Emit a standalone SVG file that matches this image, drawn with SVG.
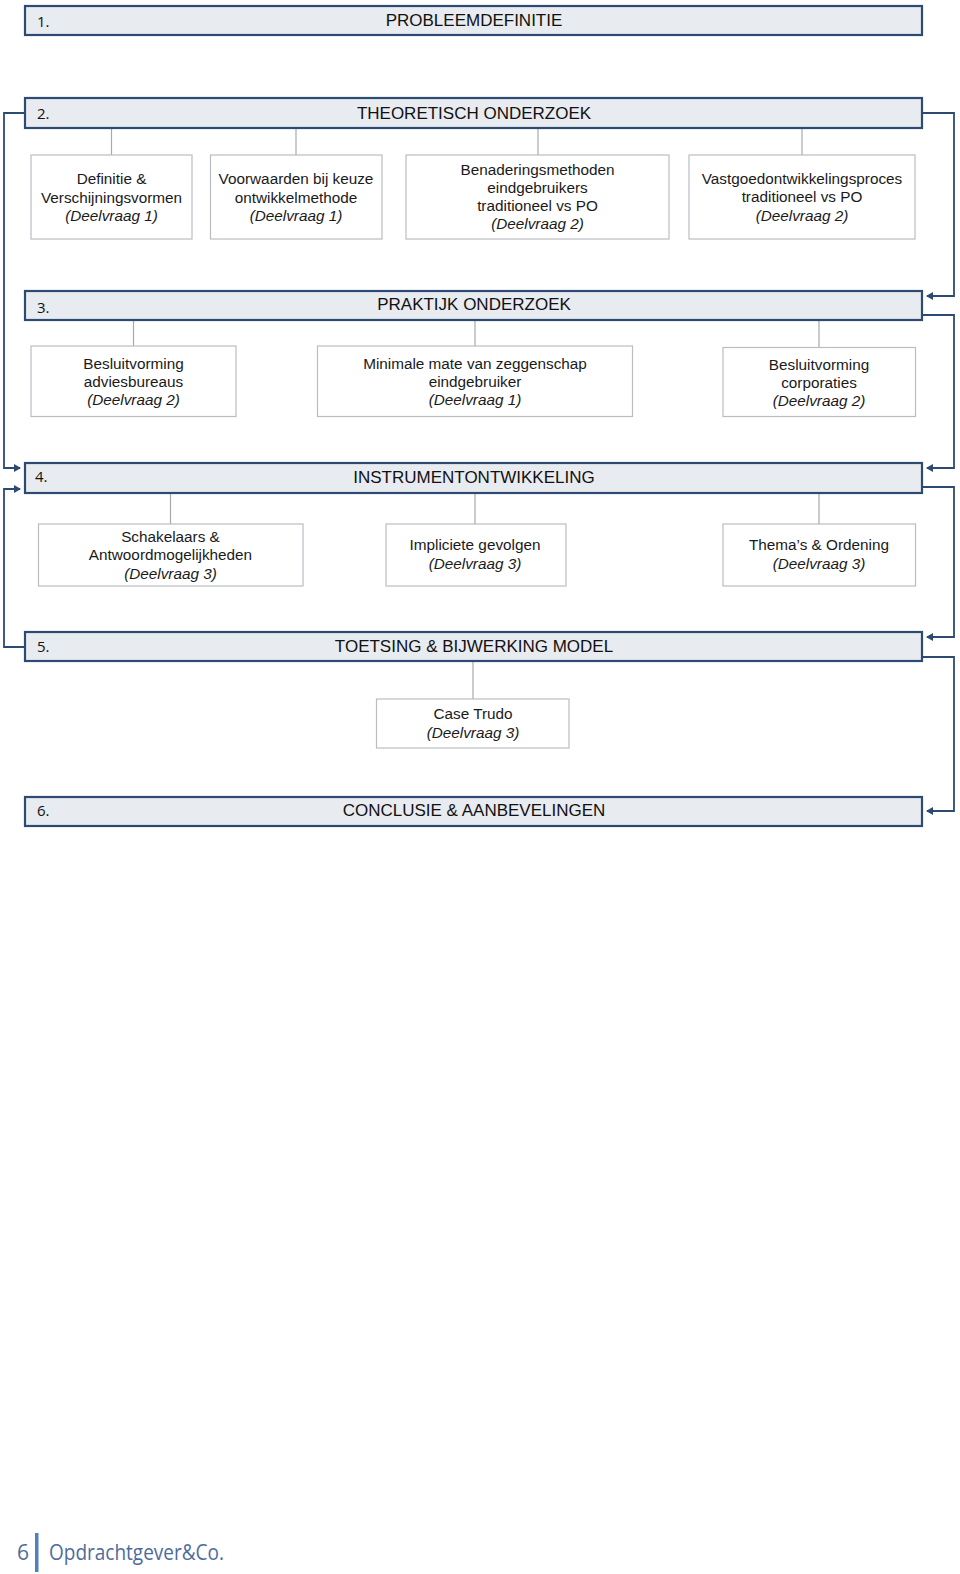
<svg xmlns="http://www.w3.org/2000/svg" width="960" height="1574" viewBox="0 0 960 1574">
<style>
.bar{fill:#e8ebf0;stroke:#2d4a72;stroke-width:2.2}
.box{fill:#ffffff;stroke:#b9bdc2;stroke-width:1.2}
.num{font-family:"Open Sans","Noto Sans",sans-serif;font-size:15px;fill:#111}
.title{font-family:"Liberation Sans",Arial,sans-serif;font-size:17px;fill:#111;text-anchor:middle}
.t{font-family:"Liberation Sans",Arial,sans-serif;font-size:15.3px;fill:#1a1a1a;text-anchor:middle}
.i{font-style:italic}
.gl{stroke:#a7a9ac;stroke-width:1.2;fill:none}
.bl{stroke:#2d4a72;stroke-width:1.8;fill:none;marker-end:url(#ah)}
</style>
<defs>
<marker id="ah" markerWidth="8" markerHeight="8" refX="6" refY="4" orient="auto" markerUnits="userSpaceOnUse">
<path d="M0,0 L7,4 L0,8 Z" fill="#2d4a72"/>
</marker>
</defs>
<rect width="960" height="1574" fill="#ffffff"/>

<g id="connectors">
<path class="gl" d="M111.5,128 V155"/>
<path class="gl" d="M296,128 V155"/>
<path class="gl" d="M538,128 V155"/>
<path class="gl" d="M802,128 V155"/>
<path class="gl" d="M133.5,320 V346"/>
<path class="gl" d="M475,320 V346"/>
<path class="gl" d="M819,320 V347"/>
<path class="gl" d="M170.5,493 V524"/>
<path class="gl" d="M475,493 V524"/>
<path class="gl" d="M819,493 V524"/>
<path class="gl" d="M473,661 V699"/>
<path class="bl" d="M922,113 H954 V296 H927"/>
<path class="bl" d="M922,315 H954 V468 H927"/>
<path class="bl" d="M922,487 H954 V637 H927"/>
<path class="bl" d="M922,657 H954 V811 H927"/>
<path class="bl" d="M25,113 H4 V468 H20"/>
<path class="bl" d="M25,647 H4 V489 H20"/>
</g>

<g id="bar1"><rect class="bar" x="25" y="6" width="897" height="29"/><text class="num" x="37" y="27">1.</text><text class="title" x="474" y="26">PROBLEEMDEFINITIE</text></g>
<g id="bar2"><rect class="bar" x="25" y="98" width="897" height="30"/><text class="num" x="37" y="119">2.</text><text class="title" x="474" y="119">THEORETISCH ONDERZOEK</text></g>
<g id="bar3"><rect class="bar" x="25" y="291" width="897" height="29"/><text class="num" x="37" y="313">3.</text><text class="title" x="474" y="310">PRAKTIJK ONDERZOEK</text></g>
<g id="bar4"><rect class="bar" x="25" y="463" width="897" height="30"/><text class="num" x="35" y="482">4.</text><text class="title" x="474" y="483">INSTRUMENTONTWIKKELING</text></g>
<g id="bar5"><rect class="bar" x="25" y="632" width="897" height="29"/><text class="num" x="37" y="652">5.</text><text class="title" x="474" y="652">TOETSING &amp; BIJWERKING MODEL</text></g>
<g id="bar6"><rect class="bar" x="25" y="797" width="897" height="29"/><text class="num" x="37" y="816">6.</text><text class="title" x="474" y="816">CONCLUSIE &amp; AANBEVELINGEN</text></g>

<g id="boxA"><rect class="box" x="31" y="155" width="161" height="84"/>
<text class="t" x="111.5" y="184">Definitie &amp;</text><text class="t" x="111.5" y="202.5">Verschijningsvormen</text><text class="t i" x="111.5" y="221">(Deelvraag 1)</text></g>
<g id="boxB"><rect class="box" x="210.5" y="155" width="171.5" height="84"/>
<text class="t" x="296" y="184">Voorwaarden bij keuze</text><text class="t" x="296" y="202.5">ontwikkelmethode</text><text class="t i" x="296" y="221">(Deelvraag 1)</text></g>
<g id="boxC"><rect class="box" x="406" y="155" width="263" height="84"/>
<text class="t" x="537.5" y="175">Benaderingsmethoden</text><text class="t" x="537.5" y="193">eindgebruikers</text><text class="t" x="537.5" y="211">traditioneel vs PO</text><text class="t i" x="537.5" y="229">(Deelvraag 2)</text></g>
<g id="boxD"><rect class="box" x="689" y="155" width="226" height="84"/>
<text class="t" x="802" y="183.5">Vastgoedontwikkelingsproces</text><text class="t" x="802" y="202">traditioneel vs PO</text><text class="t i" x="802" y="220.5">(Deelvraag 2)</text></g>

<g id="boxE"><rect class="box" x="31" y="346" width="205" height="70.5"/>
<text class="t" x="133.5" y="368.5">Besluitvorming</text><text class="t" x="133.5" y="386.5">adviesbureaus</text><text class="t i" x="133.5" y="405">(Deelvraag 2)</text></g>
<g id="boxF"><rect class="box" x="317.5" y="346" width="315" height="70.5"/>
<text class="t" x="475" y="368.5">Minimale mate van zeggenschap</text><text class="t" x="475" y="386.5">eindgebruiker</text><text class="t i" x="475" y="405">(Deelvraag 1)</text></g>
<g id="boxG"><rect class="box" x="723" y="347.5" width="192.5" height="69"/>
<text class="t" x="819" y="369.5">Besluitvorming</text><text class="t" x="819" y="387.5">corporaties</text><text class="t i" x="819" y="406">(Deelvraag 2)</text></g>

<g id="boxH"><rect class="box" x="38.5" y="524" width="264.5" height="62"/>
<text class="t" x="170.5" y="541.5">Schakelaars &amp;</text><text class="t" x="170.5" y="560">Antwoordmogelijkheden</text><text class="t i" x="170.5" y="578.5">(Deelvraag 3)</text></g>
<g id="boxI"><rect class="box" x="386" y="524" width="180" height="62"/>
<text class="t" x="475" y="550">Impliciete gevolgen</text><text class="t i" x="475" y="569">(Deelvraag 3)</text></g>
<g id="boxJ"><rect class="box" x="723" y="524" width="192.5" height="62"/>
<text class="t" x="819" y="550">Thema’s &amp; Ordening</text><text class="t i" x="819" y="569">(Deelvraag 3)</text></g>

<g id="boxK"><rect class="box" x="376.5" y="699" width="192.5" height="49"/>
<text class="t" x="473" y="719">Case Trudo</text><text class="t i" x="473" y="737.5">(Deelvraag 3)</text></g>

<g id="footer">
<text x="17" y="1560" font-family="'Open Sans','Noto Sans',sans-serif" font-size="21" fill="#4d6c9c">6</text>
<rect x="35" y="1533" width="3.5" height="39" fill="#4f81bd"/>
<text x="49" y="1560" font-family="'Open Sans','Noto Sans',sans-serif" font-size="21" fill="#4d6c9c" textLength="175" lengthAdjust="spacingAndGlyphs">Opdrachtgever&amp;Co.</text>
</g>
</svg>
